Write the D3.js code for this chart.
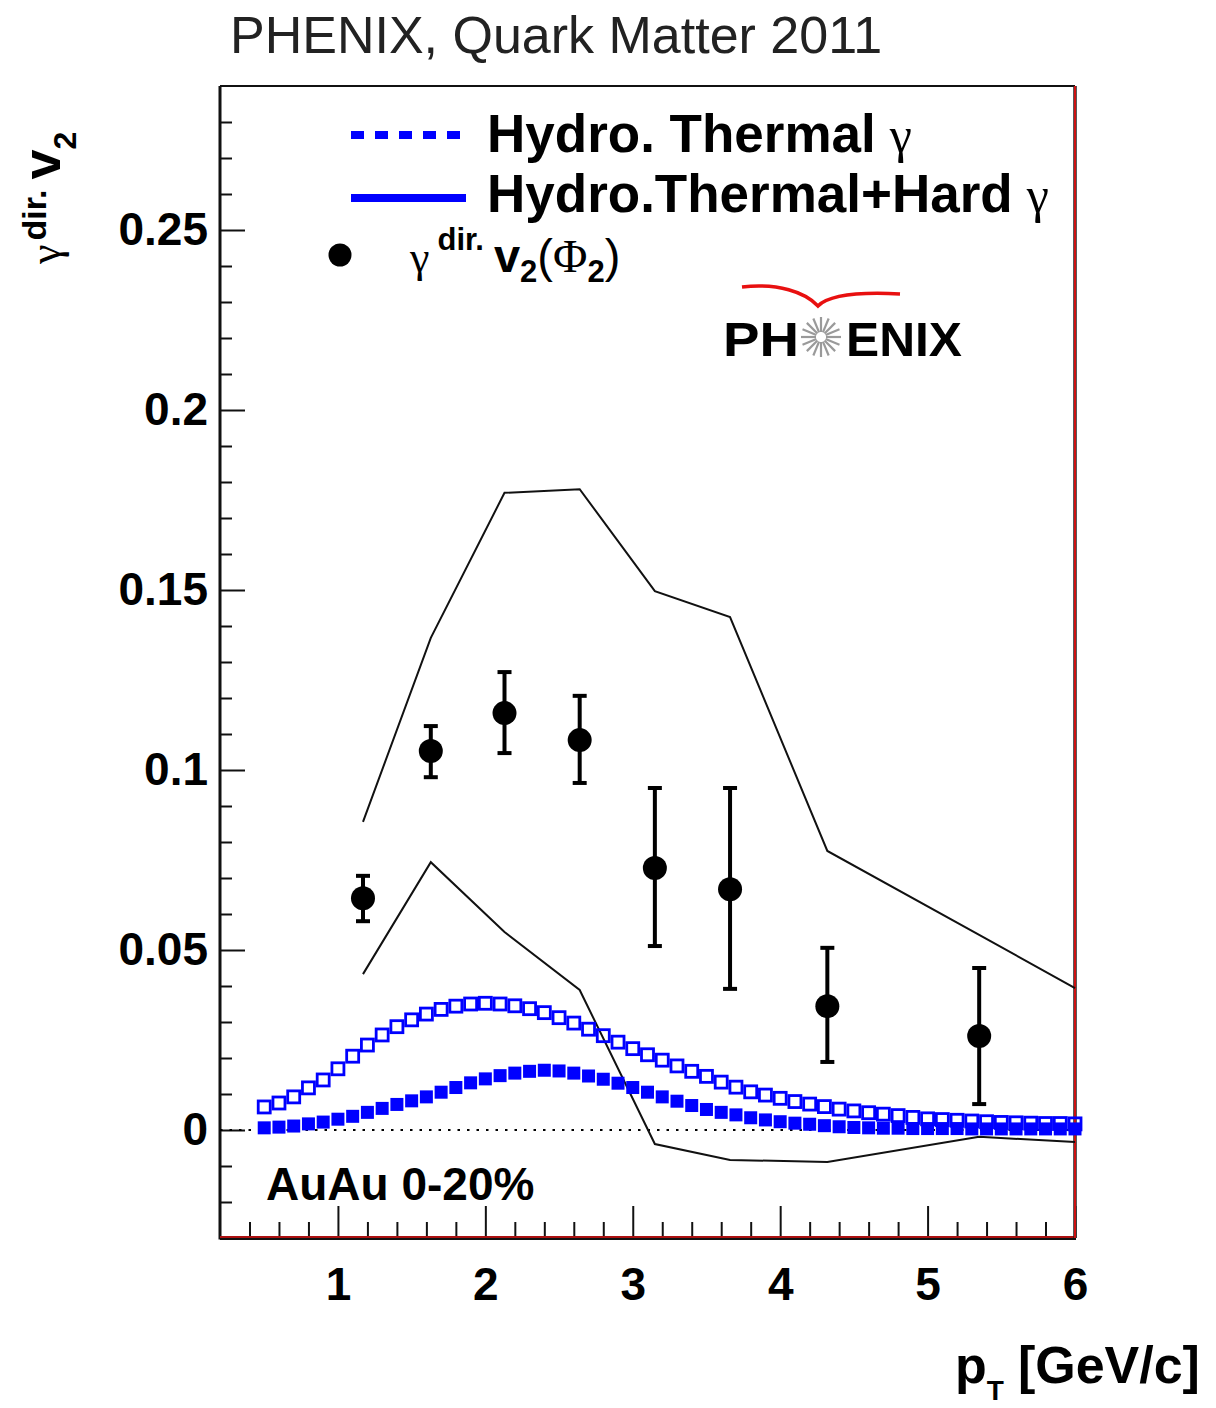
<!DOCTYPE html>
<html>
<head>
<meta charset="utf-8">
<script src="https://cdn.jsdelivr.net/npm/d3@7"></script>
<style>
  body { margin: 0; background: #fff; }
  text { font-family: "Liberation Sans", Arial, Helvetica, sans-serif; }
  .bold { font-weight: bold; }
  .greek { font-family: "Liberation Serif", "DejaVu Serif", serif; font-weight: normal; }
</style>
</head>
<body>
<div id="chart"></div>
<script>
// hydro model curves (pT grid of the model)
var modelPt = [0.5, 0.6, 0.7, 0.8, 0.9, 1.0, 1.1, 1.2, 1.3, 1.4, 1.5, 1.6, 1.7, 1.8, 1.9,
  2.0, 2.1, 2.2, 2.3, 2.4, 2.5, 2.6, 2.7, 2.8, 2.9, 3.0, 3.1, 3.2, 3.3, 3.4, 3.5, 3.6, 3.7,
  3.8, 3.9, 4.0, 4.1, 4.2, 4.3, 4.4, 4.5, 4.6, 4.7, 4.8, 4.9, 5.0, 5.1, 5.2, 5.3, 5.4, 5.5,
  5.6, 5.7, 5.8, 5.9, 6.0];
// open squares (thermal + hard)
var thermalHard = [0.0064, 0.0075, 0.0092, 0.0117, 0.0139, 0.0170, 0.0205, 0.0236, 0.0264,
  0.0287, 0.0306, 0.0322, 0.0335, 0.0344, 0.0350, 0.0352, 0.0350, 0.0345, 0.0337, 0.0326,
  0.0312, 0.0297, 0.0280, 0.0262, 0.0244, 0.0226, 0.0209, 0.0194, 0.0178, 0.0163, 0.0149,
  0.0133, 0.0119, 0.0106, 0.0097, 0.0088, 0.0079, 0.0072, 0.0065, 0.0058, 0.0053, 0.0048,
  0.0044, 0.0040, 0.0035, 0.0031, 0.0029, 0.0027, 0.0025, 0.0023, 0.0021, 0.0020, 0.0019,
  0.0018, 0.0018, 0.0017];
// filled squares (thermal only)
var thermal = [0.0006, 0.0008, 0.0011, 0.0017, 0.0022, 0.0030, 0.0038, 0.0049, 0.0060,
  0.0071, 0.0081, 0.0092, 0.0105, 0.0118, 0.0131, 0.0142, 0.0151, 0.0158, 0.0163, 0.0166,
  0.0164, 0.0158, 0.0150, 0.0141, 0.0130, 0.0118, 0.0105, 0.0092, 0.0080, 0.0068, 0.0057,
  0.0049, 0.0042, 0.0034, 0.0028, 0.0023, 0.0019, 0.0016, 0.0012, 0.0009, 0.0007, 0.0006,
  0.0005, 0.0005, 0.0004, 0.0004, 0.0004, 0.0004, 0.0003, 0.0003, 0.0003, 0.0003, 0.0003,
  0.0003, 0.0003, 0.0003];

// measured direct photon v2
var dataPt = [1.17, 1.63, 2.13, 2.64, 3.15, 3.66, 4.32, 5.35];
var dataV2 = [0.0644, 0.1053, 0.1158, 0.1083, 0.0728, 0.0669, 0.0344, 0.0261];
var errHigh = [0.0706, 0.1122, 0.1272, 0.1206, 0.0950, 0.0950, 0.0506, 0.0450];
var errLow = [0.0580, 0.0980, 0.1047, 0.0964, 0.0511, 0.0392, 0.0189, 0.0072];

// systematic band edges
var sysPt = [1.17, 1.63, 2.13, 2.64, 3.15, 3.66, 4.32, 5.35, 6.0];
var sysUpper = [0.0856, 0.1367, 0.1770, 0.1780, 0.1497, 0.1425, 0.0775, 0.0542, 0.0394];
var sysLower = [0.0433, 0.0744, 0.0550, 0.0389, -0.0039, -0.0083, -0.0089, -0.0019, -0.0033];

var xTicks = [1, 2, 3, 4, 5, 6];
var xTickLabels = ['1', '2', '3', '4', '5', '6'];
var xMinor = [0.4, 0.6, 0.8, 1.2, 1.4, 1.6, 1.8, 2.2, 2.4, 2.6, 2.8, 3.2, 3.4, 3.6, 3.8,
  4.2, 4.4, 4.6, 4.8, 5.2, 5.4, 5.6, 5.8];
var yTicks = [0, 0.05, 0.1, 0.15, 0.2, 0.25];
var yTickLabels = ['0', '0.05', '0.1', '0.15', '0.2', '0.25'];
var yMinor = [-0.02, -0.01, 0.01, 0.02, 0.03, 0.04, 0.06, 0.07, 0.08, 0.09, 0.11, 0.12,
  0.13, 0.14, 0.16, 0.17, 0.18, 0.19, 0.21, 0.22, 0.23, 0.24, 0.26, 0.27, 0.28];

var width = 1216,
  height = 1408,
  frame = { left: 220, right: 1075, top: 86, bottom: 1238 },
  blue = '#0000ff';

var svg = d3.select('#chart').append('svg')
  .attr('width', width)
  .attr('height', height);

svg.append('rect').attr('width', width).attr('height', height).attr('fill', '#fff');

var x = d3.scaleLinear().domain([0.2, 6]).range([frame.left, frame.right]);
var y = d3.scaleLinear().domain([-0.03, 0.29]).range([frame.bottom, frame.top]);

// title
svg.append('text')
  .attr('x', 230).attr('y', 53)
  .attr('font-size', 52).attr('fill', '#222')
  .text('PHENIX, Quark Matter 2011');

// axes (ticks pointing into the frame)
svg.append('g')
  .attr('transform', 'translate(0,' + frame.bottom + ')')
  .call(d3.axisBottom(x).tickValues(xTicks).tickSize(-32).tickPadding(29)
    .tickFormat(function (d, i) { return xTickLabels[i]; }));
svg.append('g')
  .attr('transform', 'translate(0,' + frame.bottom + ')')
  .call(d3.axisBottom(x).tickValues(xMinor).tickSize(-16).tickFormat(''));

svg.append('g')
  .attr('transform', 'translate(' + frame.left + ',0)')
  .call(d3.axisLeft(y).tickValues(yTicks).tickSize(-25).tickPadding(12)
    .tickFormat(function (d, i) { return yTickLabels[i]; }));
svg.append('g')
  .attr('transform', 'translate(' + frame.left + ',0)')
  .call(d3.axisLeft(y).tickValues(yMinor).tickSize(-12).tickFormat(''));

svg.selectAll('.domain').remove();
svg.selectAll('.tick line').attr('stroke', '#111').attr('stroke-width', 2);
svg.selectAll('.tick text')
  .attr('font-size', 46).attr('font-weight', 'bold').attr('fill', '#000')
  .attr('font-family', '"Liberation Sans", Arial, sans-serif');

// frame
svg.append('line').attr('x1', frame.left).attr('x2', frame.right)
  .attr('y1', frame.top).attr('y2', frame.top).attr('stroke', '#111').attr('stroke-width', 2);
svg.append('line').attr('x1', frame.left).attr('x2', frame.left)
  .attr('y1', frame.top).attr('y2', frame.bottom + 1.5).attr('stroke', '#111').attr('stroke-width', 3);
svg.append('line').attr('x1', frame.left).attr('x2', frame.right + 1)
  .attr('y1', frame.bottom).attr('y2', frame.bottom).attr('stroke', '#111').attr('stroke-width', 4);
svg.append('line').attr('x1', frame.left).attr('x2', frame.right)
  .attr('y1', frame.bottom - 1).attr('y2', frame.bottom - 1).attr('stroke', '#e01010').attr('stroke-width', 1.5);
svg.append('line').attr('x1', frame.right).attr('x2', frame.right)
  .attr('y1', frame.top).attr('y2', frame.bottom).attr('stroke', '#222').attr('stroke-width', 3.5);
svg.append('line').attr('x1', frame.right).attr('x2', frame.right)
  .attr('y1', frame.top).attr('y2', frame.bottom).attr('stroke', '#e01010').attr('stroke-width', 1.8);

// zero line
svg.append('line')
  .attr('x1', frame.left).attr('x2', frame.right)
  .attr('y1', y(0)).attr('y2', y(0))
  .attr('stroke', '#000').attr('stroke-width', 1.8).attr('stroke-dasharray', '2.5,7');

// systematic band edges
var sysLine = d3.line()
  .x(function (d) { return x(d[0]); })
  .y(function (d) { return y(d[1]); });
[sysUpper, sysLower].forEach(function (edge) {
  svg.append('path')
    .datum(sysPt.map(function (p, i) { return [p, edge[i]]; }))
    .attr('d', sysLine)
    .attr('fill', 'none').attr('stroke', '#111').attr('stroke-width', 2);
});

// hydro curves
svg.append('g').selectAll('rect')
  .data(modelPt.map(function (p, i) { return [p, thermalHard[i]]; }))
  .enter().append('rect')
  .attr('x', function (d) { return x(d[0]) - 6; })
  .attr('y', function (d) { return y(d[1]) - 6; })
  .attr('width', 12).attr('height', 12)
  .attr('fill', 'none').attr('stroke', blue).attr('stroke-width', 2.8);

svg.append('g').selectAll('rect')
  .data(modelPt.map(function (p, i) { return [p, thermal[i]]; }))
  .enter().append('rect')
  .attr('x', function (d) { return x(d[0]) - 6.5; })
  .attr('y', function (d) { return y(d[1]) - 6.5; })
  .attr('width', 13).attr('height', 13)
  .attr('fill', blue);

// data points with error bars
var pts = svg.append('g').selectAll('g')
  .data(dataPt.map(function (p, i) { return { pt: p, v: dataV2[i], hi: errHigh[i], lo: errLow[i] }; }))
  .enter().append('g');
pts.append('line')
  .attr('x1', function (d) { return x(d.pt); }).attr('x2', function (d) { return x(d.pt); })
  .attr('y1', function (d) { return y(d.hi); }).attr('y2', function (d) { return y(d.lo); })
  .attr('stroke', '#000').attr('stroke-width', 4);
['hi', 'lo'].forEach(function (k) {
  pts.append('line')
    .attr('x1', function (d) { return x(d.pt) - 7; }).attr('x2', function (d) { return x(d.pt) + 7; })
    .attr('y1', function (d) { return y(d[k]); }).attr('y2', function (d) { return y(d[k]); })
    .attr('stroke', '#000').attr('stroke-width', 4);
});
pts.append('circle')
  .attr('cx', function (d) { return x(d.pt); })
  .attr('cy', function (d) { return y(d.v); })
  .attr('r', 12).attr('fill', '#000');

// legend
svg.append('line')
  .attr('x1', 351).attr('x2', 460).attr('y1', 135).attr('y2', 135)
  .attr('stroke', blue).attr('stroke-width', 8).attr('stroke-dasharray', '13,11');
svg.append('line')
  .attr('x1', 351).attr('x2', 466).attr('y1', 198).attr('y2', 198)
  .attr('stroke', blue).attr('stroke-width', 8);

var leg1 = svg.append('text').attr('x', 487).attr('y', 152).attr('font-size', 53).attr('class', 'bold');
leg1.append('tspan').text('Hydro. Thermal');
leg1.append('tspan').attr('class', 'greek').attr('dx', 14).attr('font-size', 50).text('γ');

var leg2 = svg.append('text').attr('x', 487).attr('y', 212).attr('font-size', 53).attr('class', 'bold');
leg2.append('tspan').text('Hydro.Thermal+Hard');
leg2.append('tspan').attr('class', 'greek').attr('dx', 14).attr('font-size', 50).text('γ');

svg.append('circle').attr('cx', 340).attr('cy', 255).attr('r', 11.5).attr('fill', '#000');
var leg3 = svg.append('text').attr('x', 410).attr('y', 272).attr('font-size', 47).attr('class', 'bold');
leg3.append('tspan').attr('class', 'greek').attr('font-size', 44).text('γ');
leg3.append('tspan').attr('dx', 8).attr('dy', -22).attr('font-size', 31).text('dir.');
leg3.append('tspan').attr('dx', 10).attr('dy', 22).text('v');
leg3.append('tspan').attr('dy', 10).attr('font-size', 31).text('2');
leg3.append('tspan').attr('dy', -10).attr('font-weight', 'normal').text('(');
leg3.append('tspan').attr('class', 'greek').attr('font-size', 47).text('Φ');
leg3.append('tspan').attr('dy', 10).attr('font-size', 31).text('2');
leg3.append('tspan').attr('dy', -10).attr('font-weight', 'normal').text(')');

// PHENIX logo
svg.append('path')
  .attr('d', 'M742,287 C778,283 805,292 818,306 C830,294 862,292 900,294')
  .attr('fill', 'none').attr('stroke', '#e81010').attr('stroke-width', 3.5);
svg.append('text').attr('x', 723).attr('y', 356).attr('font-size', 48).attr('class', 'bold')
  .attr('textLength', 76).attr('lengthAdjust', 'spacingAndGlyphs').text('PH');
svg.append('text').attr('x', 846).attr('y', 356).attr('font-size', 48).attr('class', 'bold')
  .attr('textLength', 116).attr('lengthAdjust', 'spacingAndGlyphs').text('ENIX');
var star = svg.append('g').attr('transform', 'translate(821,337)');
star.selectAll('line')
  .data(d3.range(16))
  .enter().append('line')
  .attr('x1', function (i) { return 5 * Math.cos(i * Math.PI / 8); })
  .attr('y1', function (i) { return 5 * Math.sin(i * Math.PI / 8); })
  .attr('x2', function (i) { return 20 * Math.cos(i * Math.PI / 8); })
  .attr('y2', function (i) { return 20 * Math.sin(i * Math.PI / 8); })
  .attr('stroke', '#9a9a9a').attr('stroke-width', 2.2);

// centrality label
svg.append('text').attr('x', 266).attr('y', 1200).attr('font-size', 46).attr('class', 'bold')
  .text('AuAu 0-20%');

// x axis title
var xt = svg.append('text').attr('x', 955).attr('y', 1383).attr('font-size', 52).attr('class', 'bold');
xt.append('tspan').text('p');
xt.append('tspan').attr('dy', 17).attr('font-size', 28).text('T');
xt.append('tspan').attr('dy', -17).attr('dx', 14).text('[GeV/c]');

// y axis title (rotated)
var yt = svg.append('text')
  .attr('transform', 'translate(60,264) rotate(-90)')
  .attr('font-size', 54).attr('class', 'bold');
yt.append('tspan').attr('class', 'greek').attr('font-size', 44).text('γ');
yt.append('tspan').attr('dx', 4).attr('dy', -14).attr('font-size', 34).text('dir.');
yt.append('tspan').attr('dx', 10).attr('dy', 14).text('v');
yt.append('tspan').attr('dy', 16).attr('font-size', 32).text('2');
</script>
</body>
</html>
